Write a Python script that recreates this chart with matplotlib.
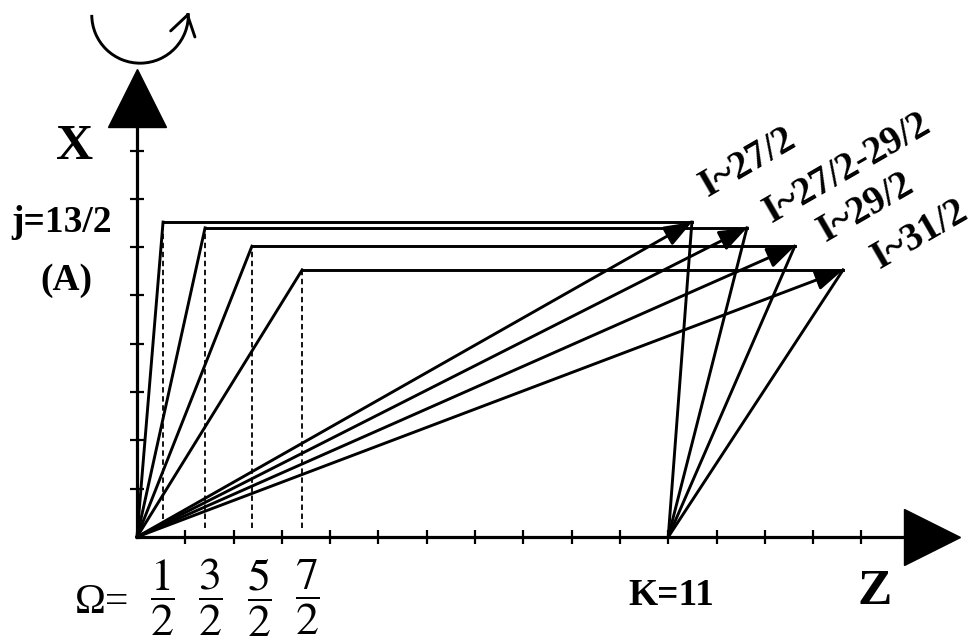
import matplotlib
matplotlib.use('Agg')
import matplotlib.pyplot as plt
from matplotlib.patches import Arc

plt.rcParams['font.family'] = ['Liberation Serif', 'DejaVu Serif']
plt.rcParams['mathtext.fontset'] = 'stix'

# valeurs
K = 11
omega = [0.5, 1.5, 2.5, 3.5]
omega_num = ['1', '3', '5', '7']
j_tip_z = [0.54, 1.41, 2.38, 3.42]      # bout des vecteurs j (axe Z)
j_tip_x = [6.52, 6.40, 6.02, 5.53]      # bout des vecteurs j (axe X)
i_tip_z = [11.49, 12.63, 13.62, 14.62]  # bout des vecteurs I (axe Z)
i_labels = ['I~27/2', 'I~27/2-29/2', 'I~29/2', 'I~31/2']
i_label_pos = [(12.65, 7.74), (14.72, 7.64), (15.09, 6.81), (16.21, 6.25)]
z_ticks = list(range(1, 16))
x_ticks = list(range(1, 9))

fig = plt.figure(figsize=(9.73, 6.40), dpi=100)
ax = fig.add_axes([0, 0, 1, 1])
ax.set_xlim(-2.836, 17.31)
ax.set_ylim(-2.133, 11.118)
ax.axis('off')

lw = 2.1

# axes Z et X avec grosses fleches
ax.plot([0, 16.0], [0, 0], color='black', lw=2.3)
ax.plot([0, 0], [0, 8.6], color='black', lw=2.3)
ax.plot([16.47], [0], marker='>', ms=40, color='black')
ax.plot([0], [9.08], marker='^', ms=42, color='black')
ax.plot(z_ticks, [0] * len(z_ticks), ls='none', marker='|', ms=10, mew=1.6, color='black')
ax.plot([0] * len(x_ticks), x_ticks, ls='none', marker='_', ms=10, mew=1.6, color='black')

# rotation autour de X
ax.add_patch(Arc((0.064, 10.81), 2.0, 2.0, theta1=180, theta2=2, lw=lw, color='black'))
ax.annotate('', xy=(1.06, 10.86), xytext=(1.045, 10.80),
            arrowprops=dict(arrowstyle='->,head_length=0.7,head_width=0.45',
                            mutation_scale=20, lw=lw, color='black',
                            shrinkA=0, shrinkB=0))

# vecteurs j, projections, R et I
for jz, jx, iz in zip(j_tip_z, j_tip_x, i_tip_z):
    ax.plot([0, jz], [0, jx], color='black', lw=lw)
    ax.plot([jz, jz], [0.18, jx], color='black', lw=1.3, ls=(0, (3, 2)))
    ax.plot([jz, iz], [jx, jx], color='black', lw=lw)
    ax.plot([K, iz], [0, jx], color='black', lw=lw)
    ax.annotate('', xy=(iz, jx), xytext=(0, 0),
                arrowprops=dict(arrowstyle='-|>,head_length=0.8,head_width=0.3',
                                mutation_scale=21, lw=lw, color='black',
                                shrinkA=0, shrinkB=0))

for lab, (lz, lx) in zip(i_labels, i_label_pos):
    ax.text(lz, lx, lab, fontsize=28, fontweight='bold', rotation=30,
            rotation_mode='anchor', ha='center', va='center')

# textes
ax.text(-1.30, 8.07, 'X', fontsize=37, fontweight='bold', ha='center', va='center')
ax.text(15.28, -1.14, 'Z', fontsize=37, fontweight='bold', ha='center', va='center')
ax.text(11.06, -1.22, 'K=11', fontsize=27, fontweight='bold', ha='center', va='center')
ax.text(-1.57, 6.52, 'j=13/2', fontsize=27, fontweight='bold', ha='center', va='center')
ax.text(-1.47, 5.32, '(A)', fontsize=27, fontweight='bold', ha='center', va='center')
ax.text(-0.72, -1.37, 'Ω=', fontsize=30, ha='center', va='center')
for om, num in zip(omega, omega_num):
    ax.text(om + 0.03, -1.26, r'$\dfrac{%s}{2}$' % num, fontsize=33, ha='center', va='center')

fig.savefig('out.png', dpi=100)
